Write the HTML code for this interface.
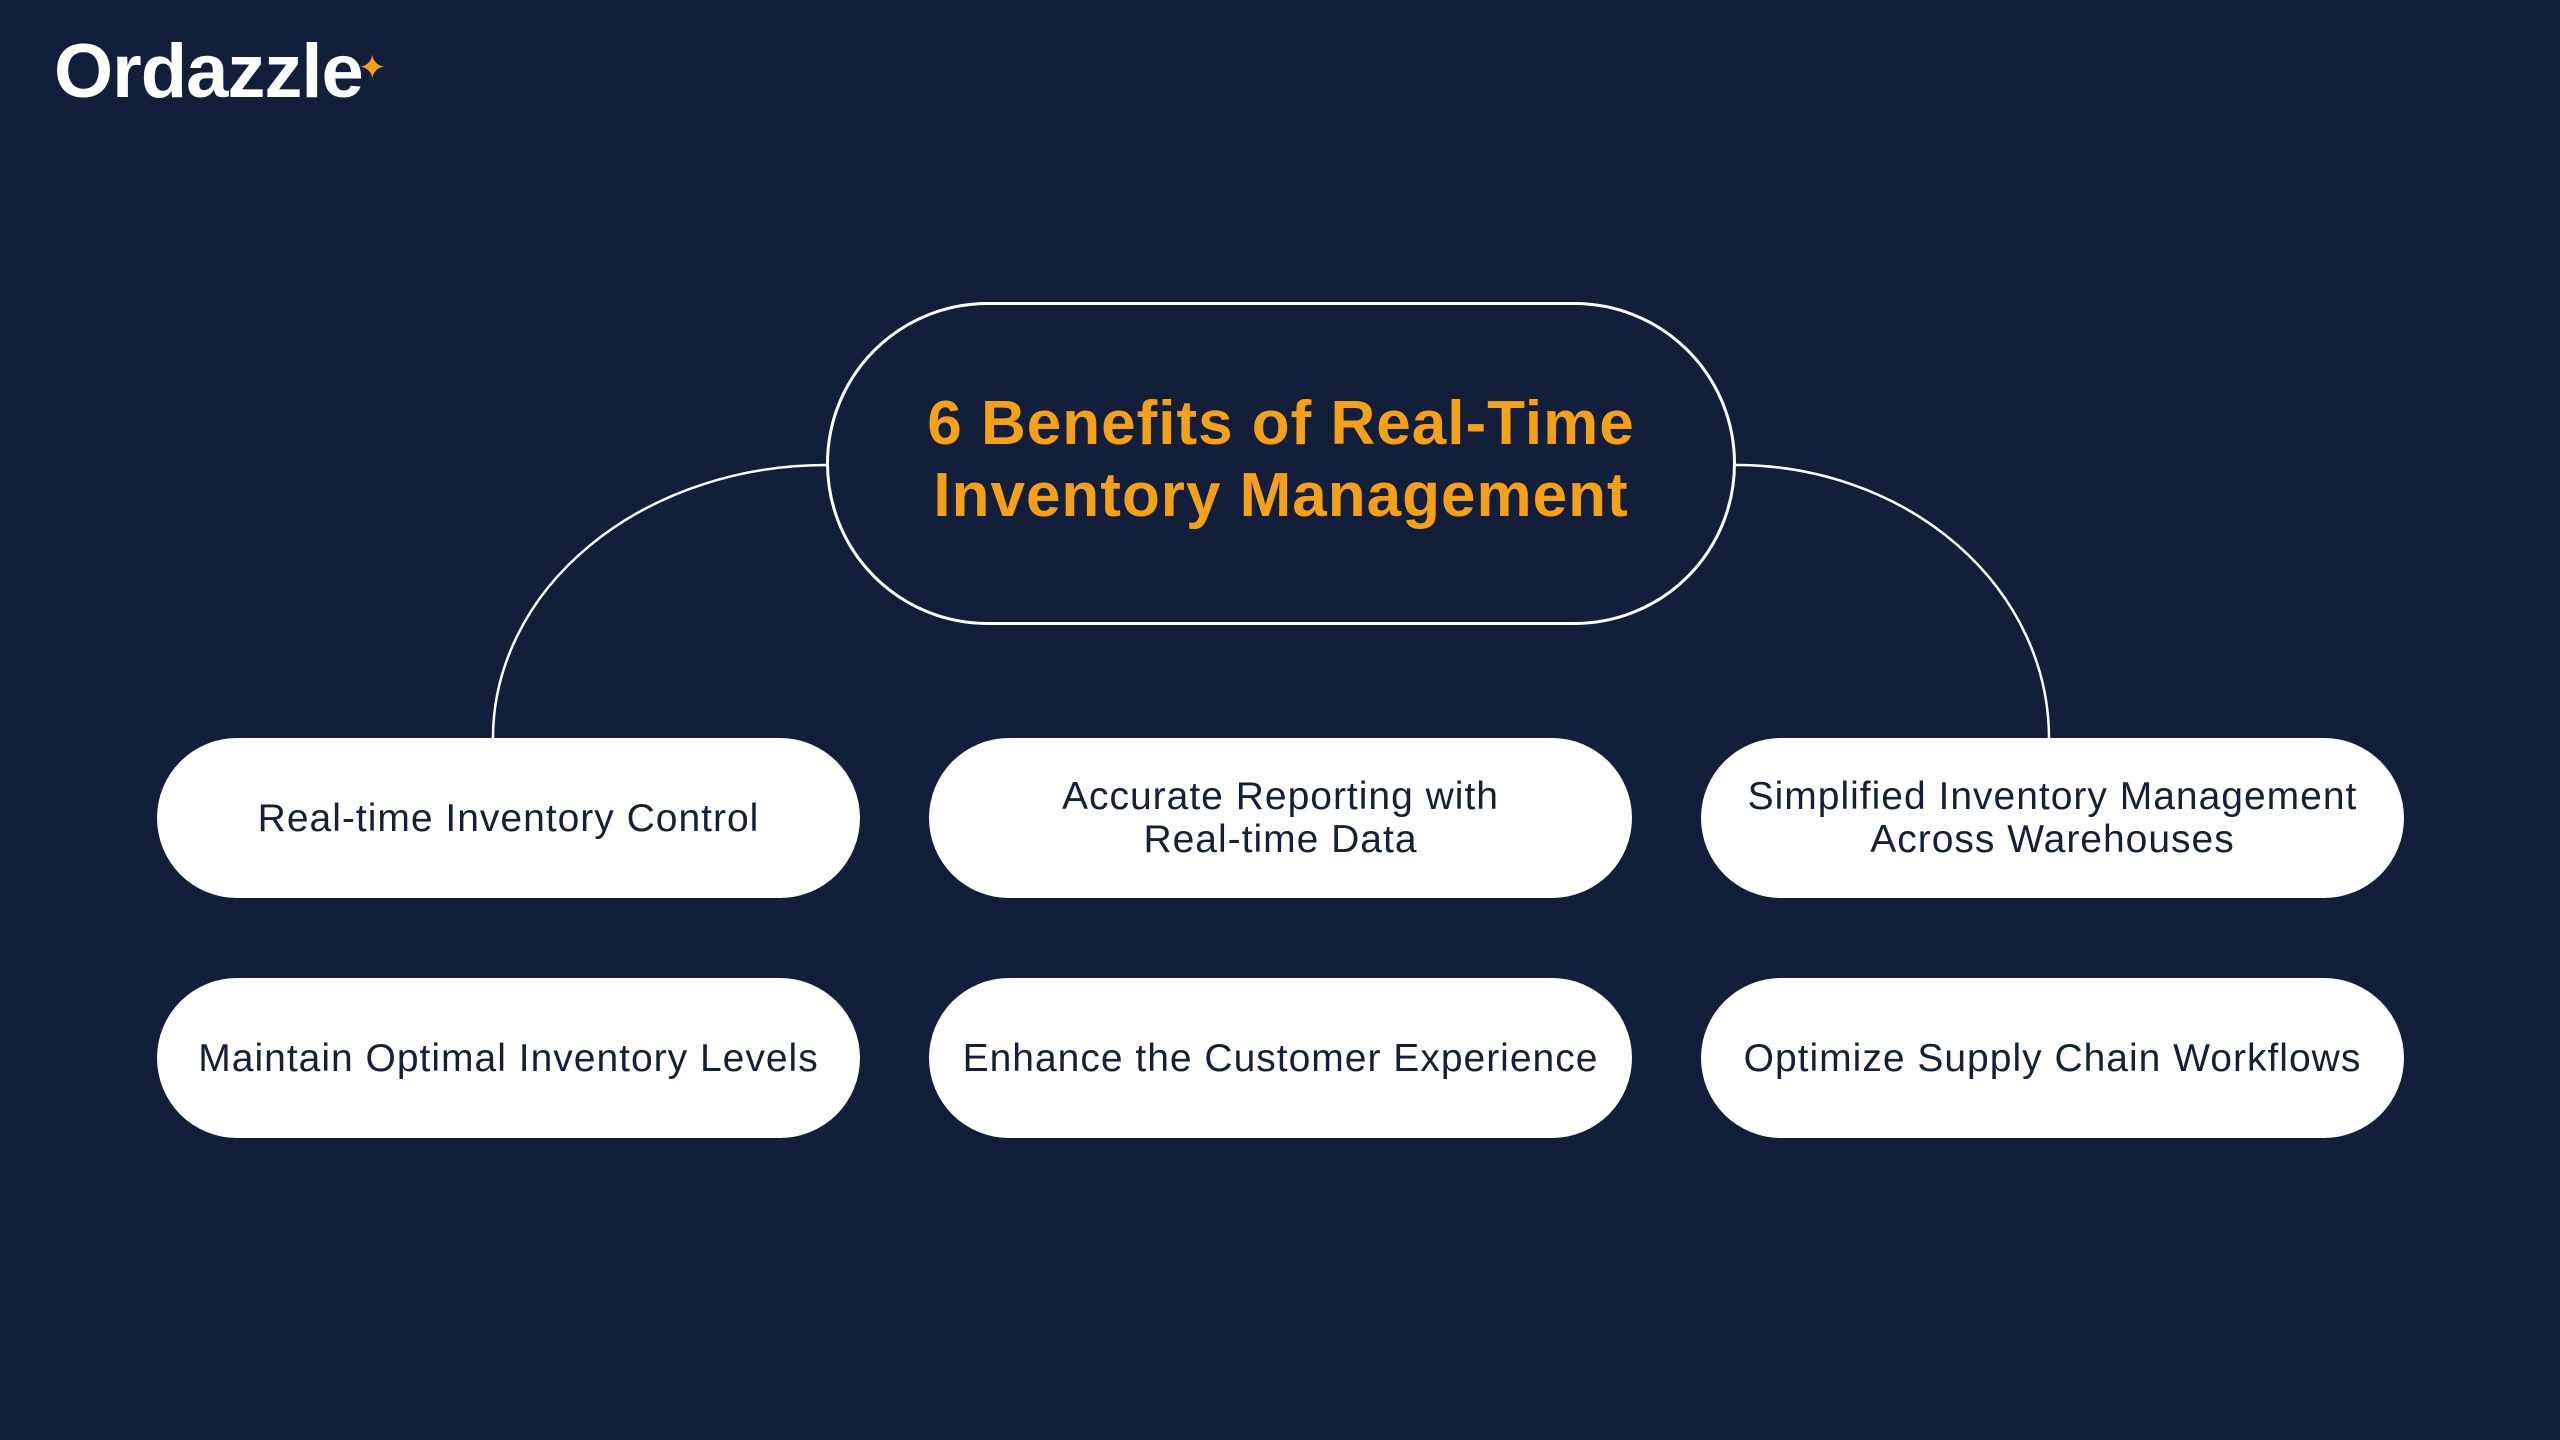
<!DOCTYPE html>
<html><head><meta charset="utf-8"><style>
html,body{margin:0;padding:0}
body{width:2560px;height:1440px;background:#131f3a;position:relative;overflow:hidden;font-family:"Liberation Sans",sans-serif}
.logo{position:absolute;left:54px;top:28px;font-size:76px;font-weight:bold;color:#fff;letter-spacing:-1px}
.star{position:absolute;left:358px;top:48px;color:#f5a01a;font-size:34px}
.center{position:absolute;left:826px;top:302px;width:904px;height:317px;border:3px solid #fff;border-radius:170px;display:flex;align-items:center;justify-content:center;text-align:center;color:#f5a01a;font-weight:bold;font-size:62px;letter-spacing:1px;line-height:72px;padding-bottom:8px;box-sizing:content-box}
.box{position:absolute;width:703px;height:160px;background:#fff;border-radius:80px;display:flex;align-items:center;justify-content:center;text-align:center;color:#14203a;font-size:39px;letter-spacing:1px;line-height:43px}
svg{position:absolute;left:0;top:0}
</style></head><body>
<div class="logo">Ordazzle</div><div class="star">✦</div>
<svg width="2560" height="1440"><path d="M826 465 A333 273 0 0 0 493 738" fill="none" stroke="#fff" stroke-width="2.5"/><path d="M1736 465 A313 273 0 0 1 2049 738" fill="none" stroke="#fff" stroke-width="2.5"/></svg>
<div class="center" style="height:309px">6 Benefits of Real-Time<br>Inventory Management</div>
<div class="box" style="left:157px;top:738px">Real-time Inventory Control</div>
<div class="box" style="left:929px;top:738px">Accurate Reporting with<br>Real-time Data</div>
<div class="box" style="left:1701px;top:738px">Simplified Inventory Management<br>Across Warehouses</div>
<div class="box" style="left:157px;top:978px">Maintain Optimal Inventory Levels</div>
<div class="box" style="left:929px;top:978px">Enhance the Customer Experience</div>
<div class="box" style="left:1701px;top:978px">Optimize Supply Chain Workflows</div>
</body></html>
